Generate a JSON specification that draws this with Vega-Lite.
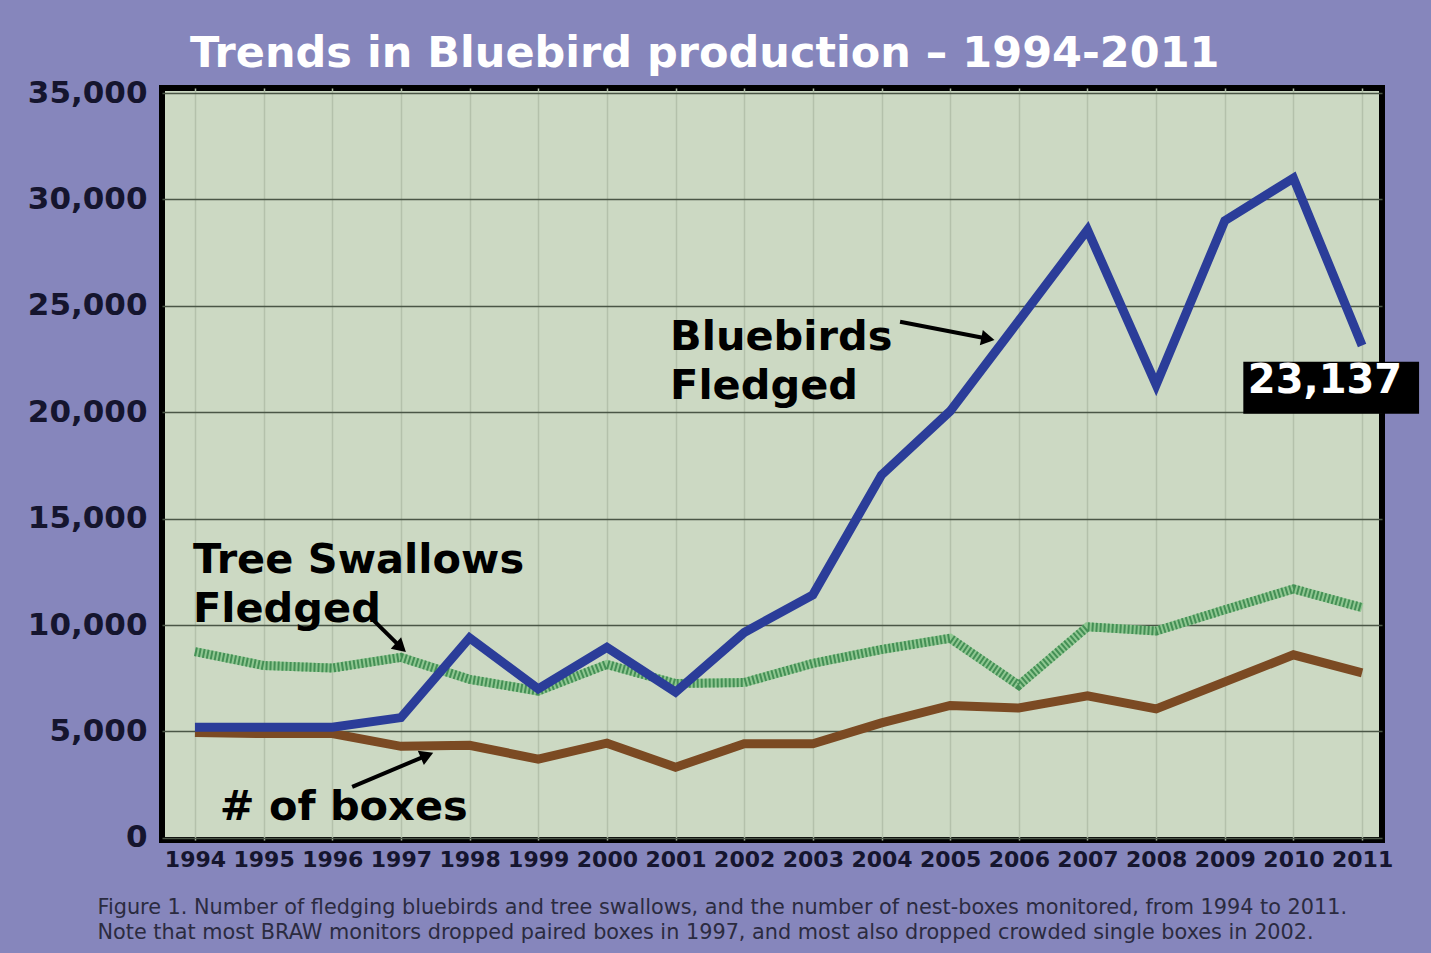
{
  "$schema": "https://vega.github.io/schema/vega-lite/v6.json",
  "width": 1220,
  "height": 752,
  "autosize": {"type": "none"},
  "padding": {"left": 162, "top": 88, "right": 49, "bottom": 113},
  "background": "#8686bc",
  "config": {
    "view": {"fill": "#ccd9c3", "stroke": "#000000", "strokeWidth": 6},
    "font": "DejaVu Sans"
  },
  "title": {
    "text": "Trends in Bluebird production – 1994-2011",
    "color": "#ffffff",
    "font": "DejaVu Sans",
    "fontSize": 43,
    "fontWeight": "bold",
    "anchor": "start",
    "frame": "group",
    "dx": 28,
    "dy": 53,
    "baseline": "alphabetic",
    "offset": 20
  },
  "datasets": {
    "counts": [
      {"year": 1994, "bluebirds": 5200, "swallows": 8750, "boxes": 4950},
      {"year": 1995, "bluebirds": 5200, "swallows": 8100, "boxes": 4900},
      {"year": 1996, "bluebirds": 5200, "swallows": 7980, "boxes": 4900},
      {"year": 1997, "bluebirds": 5650, "swallows": 8480, "boxes": 4300},
      {"year": 1998, "bluebirds": 9400, "swallows": 7450, "boxes": 4350},
      {"year": 1999, "bluebirds": 7000, "swallows": 6900, "boxes": 3700},
      {"year": 2000, "bluebirds": 8950, "swallows": 8150, "boxes": 4450},
      {"year": 2001, "bluebirds": 6850, "swallows": 7250, "boxes": 3320},
      {"year": 2002, "bluebirds": 9650, "swallows": 7300, "boxes": 4420},
      {"year": 2003, "bluebirds": 11420, "swallows": 8200, "boxes": 4420},
      {"year": 2004, "bluebirds": 17050, "swallows": 8850, "boxes": 5400},
      {"year": 2005, "bluebirds": 20050, "swallows": 9380, "boxes": 6220},
      {"year": 2006, "bluebirds": 24300, "swallows": 7170, "boxes": 6100},
      {"year": 2007, "bluebirds": 28570, "swallows": 9920, "boxes": 6670},
      {"year": 2008, "bluebirds": 21290, "swallows": 9720, "boxes": 6060},
      {"year": 2009, "bluebirds": 29000, "swallows": 10720, "boxes": 7330},
      {"year": 2010, "bluebirds": 31000, "swallows": 11700, "boxes": 8600},
      {"year": 2011, "bluebirds": 23137, "swallows": 10820, "boxes": 7750}
    ],
    "labels": [
      {"x": 2000.92, "y": 22936, "text": "Bluebirds\nFledged"},
      {"x": 1993.97, "y": 12455, "text": "Tree Swallows\nFledged"},
      {"x": 1994.36, "y": 846, "text": "# of boxes"}
    ],
    "arrows": [
      {"x": 2004.27, "y": 24252, "x2": 2005.55, "y2": 23450, "angle": 11},
      {"x": 1996.55, "y": 10387, "x2": 1997.0, "y2": 8950, "angle": 42},
      {"x": 1996.29, "y": 2397, "x2": 1997.38, "y2": 3880, "angle": -23}
    ],
    "callout": [
      {"x": 2009.27, "x2": 2011.83, "y": 22372, "y2": 19928, "tx": 2010.46, "ty": 20915, "text": "23,137"}
    ]
  },
  "layer": [
    {
      "data": {"name": "counts"},
      "mark": {"type": "line", "color": "#7b4a23", "strokeWidth": 9, "strokeJoin": "miter"},
      "encoding": {
        "x": {
          "field": "year",
          "type": "quantitative",
          "scale": {"domain": [1993.52, 2011.29], "nice": false, "zero": false},
          "axis": {
            "values": [1994, 1995, 1996, 1997, 1998, 1999, 2000, 2001, 2002, 2003, 2004, 2005, 2006, 2007, 2008, 2009, 2010, 2011],
            "format": "d",
            "labelFont": "DejaVu Sans",
            "labelFontSize": 22,
            "labelFontWeight": "bold",
            "labelColor": "#15152e",
            "labelPadding": 9,
            "labelFlush": false,
            "labelOverlap": false,
            "ticks": false,
            "domain": false,
            "grid": true,
            "gridColor": "#b4c1ab",
            "gridWidth": 1.5,
            "title": [
              "Figure 1.  Number of fledging bluebirds and tree swallows, and the number of nest-boxes monitored, from 1994 to 2011.",
              "Note that most BRAW monitors dropped paired boxes in 1997, and most also dropped crowded single boxes in 2002."
            ],
            "titleFont": "DejaVu Sans",
            "titleFontSize": 20.8,
            "titleFontWeight": "normal",
            "titleColor": "#2b2b40",
            "titleAlign": "left",
            "titleAnchor": "start",
            "titleBaseline": "alphabetic",
            "titleX": -65,
            "titleY": 73,
            "titleLineHeight": 25
          }
        },
        "y": {
          "field": "boxes",
          "type": "quantitative",
          "scale": {"domain": [-100, 35235], "nice": false, "zero": false},
          "axis": {
            "values": [0, 5000, 10000, 15000, 20000, 25000, 30000, 35000],
            "format": ",.0f",
            "labelFont": "DejaVu Sans",
            "labelFontSize": 31,
            "labelFontWeight": "bold",
            "labelColor": "#15152e",
            "labelPadding": 15,
            "ticks": false,
            "domain": false,
            "grid": true,
            "gridColor": "#4a5646",
            "gridWidth": 1.6,
            "title": null
          }
        }
      }
    },
    {
      "data": {"name": "counts"},
      "mark": {"type": "line", "color": "#8fc791", "strokeWidth": 9},
      "encoding": {
        "x": {"field": "year", "type": "quantitative"},
        "y": {"field": "swallows", "type": "quantitative"}
      }
    },
    {
      "data": {"name": "counts"},
      "mark": {"type": "line", "color": "#448f55", "strokeWidth": 9, "strokeDash": [2, 2]},
      "encoding": {
        "x": {"field": "year", "type": "quantitative"},
        "y": {"field": "swallows", "type": "quantitative"}
      }
    },
    {
      "data": {"name": "counts"},
      "mark": {"type": "line", "color": "#2b3d99", "strokeWidth": 9, "strokeJoin": "miter"},
      "encoding": {
        "x": {"field": "year", "type": "quantitative"},
        "y": {"field": "bluebirds", "type": "quantitative"}
      }
    },
    {
      "data": {"name": "arrows"},
      "mark": {"type": "rule", "color": "#000000", "strokeWidth": 4},
      "encoding": {
        "x": {"field": "x", "type": "quantitative"},
        "y": {"field": "y", "type": "quantitative"},
        "x2": {"field": "x2"},
        "y2": {"field": "y2"}
      }
    },
    {
      "data": {"name": "arrows"},
      "mark": {"type": "point", "shape": "triangle-right", "filled": true, "color": "#000000", "size": 240, "opacity": 1},
      "encoding": {
        "x": {"field": "x2", "type": "quantitative"},
        "y": {"field": "y2", "type": "quantitative"},
        "angle": {"field": "angle", "type": "quantitative", "scale": null}
      }
    },
    {
      "data": {"name": "labels"},
      "mark": {"type": "text", "font": "DejaVu Sans", "fontSize": 41.5, "fontWeight": "bold", "color": "#000000", "align": "left", "baseline": "alphabetic", "lineBreak": "\n", "lineHeight": 49},
      "encoding": {
        "x": {"field": "x", "type": "quantitative"},
        "y": {"field": "y", "type": "quantitative"},
        "text": {"field": "text", "type": "nominal"}
      }
    },
    {
      "data": {"name": "callout"},
      "mark": {"type": "rect", "color": "#000000"},
      "encoding": {
        "x": {"field": "x", "type": "quantitative"},
        "x2": {"field": "x2"},
        "y": {"field": "y", "type": "quantitative"},
        "y2": {"field": "y2"}
      }
    },
    {
      "data": {"name": "callout"},
      "mark": {"type": "text", "font": "DejaVu Sans", "fontSize": 40, "fontWeight": "bold", "color": "#ffffff", "align": "center", "baseline": "alphabetic"},
      "encoding": {
        "x": {"field": "tx", "type": "quantitative"},
        "y": {"field": "ty", "type": "quantitative"},
        "text": {"field": "text", "type": "nominal"}
      }
    }
  ]
}
